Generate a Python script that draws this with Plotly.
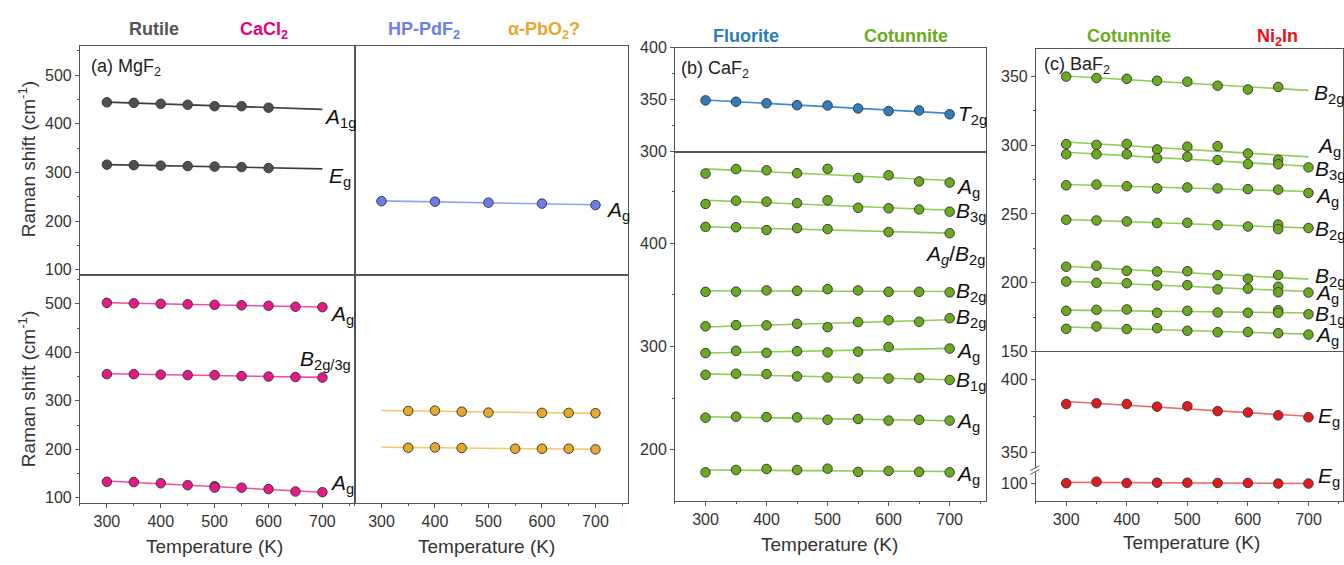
import numpy as np
import plotly.graph_objects as go

W, H = 1344, 565

# ---------------- DATA ----------------
T9 = [300, 350, 400, 450, 500, 550, 600, 650, 700]

# (a) MgF2
mgf2_rutile_T = [300, 350, 400, 450, 500, 550, 600]
mgf2_rutile_A1g = [444, 443, 441, 439, 436, 436, 433]
mgf2_rutile_Eg = [316, 315, 314, 313, 312, 311, 309]
mgf2_cacl2_Ag_hi = [502, 501, 500, 499, 498, 497, 496, 494, 493]
mgf2_cacl2_B2g3g = [355, 355, 354, 353, 353, 351, 350, 349, 348]
mgf2_cacl2_Ag_lo_T = [300, 350, 400, 450, 500, 500, 550, 600, 650, 700]
mgf2_cacl2_Ag_lo = [133, 132.5, 130, 126, 124, 121, 121, 118, 113, 111.5]
mgf2_pdf2_T = [300, 400, 500, 600, 700]
mgf2_pdf2_Ag = [241, 240, 238, 236, 233]
mgf2_pbo2_hi_T = [350, 400, 450, 500, 600, 650, 700]
mgf2_pbo2_hi = [279, 279.7, 277.7, 275.7, 275.1, 275.1, 274.5]
mgf2_pbo2_lo_T = [350, 400, 450, 550, 600, 650, 700]
mgf2_pbo2_lo = [203.2, 203.8, 202.6, 201.2, 201.2, 201.2, 199.8]

# (b) CaF2
caf2_fl_T2g = [349.3, 348, 346.5, 344.7, 344.4, 341.5, 339, 339.6, 335.9]
caf2_cot_Ag1 = [467.6, 472, 470.8, 468, 472.3, 463.3, 466, 460, 458.9]
caf2_cot_B3g = [438.2, 441.3, 440.4, 439, 441.7, 434.5, 434, 432.9, 430.7]
caf2_cot_AgB2g_T = [300, 350, 400, 450, 500, 600, 700]
caf2_cot_AgB2g = [416, 415.7, 412.9, 414.7, 413.8, 411, 409.8]
caf2_cot_B2g1 = [353, 353.2, 354.4, 354, 355.6, 354.4, 353, 353, 352.5]
caf2_cot_B2g2 = [319.6, 320.8, 320.5, 322, 318.7, 323.7, 325.5, 324, 327.4]
caf2_cot_Ag2_T = [300, 350, 400, 450, 500, 550, 600, 700]
caf2_cot_Ag2 = [293.6, 295.8, 293.9, 295.5, 294.3, 295, 299.5, 298]
caf2_cot_B1g = [272.6, 273.6, 273.3, 271, 270, 268.9, 268.9, 269.5, 267.6]
caf2_cot_Ag3 = [231, 232, 231.6, 231.3, 229, 229.7, 228.2, 228.9, 228.2]
caf2_cot_Ag4 = [178, 180.3, 181.3, 180.3, 181.6, 178.4, 179.4, 178.4, 178]

# (c) BaF2
baf2_B2g1_T = [300, 350, 400, 450, 500, 550, 600, 650]
baf2_B2g1 = [350, 349, 348.4, 347, 346.3, 343.4, 340.6, 342.5]
baf2_Ag1_T = [300, 350, 400, 450, 500, 550, 600, 650]
baf2_Ag1 = [300.8, 300.3, 301, 297, 299, 299.4, 294, 289.5]
baf2_B3g = [293.5, 293.5, 293.5, 290.7, 291.7, 289.3, 286.4, 286.2, 283.9]
baf2_Ag2 = [270.9, 271.4, 270.2, 268.6, 269.3, 268.6, 268.1, 267.7, 265.3]
baf2_B2g2_T = [300, 350, 400, 450, 500, 550, 600, 650, 650, 700]
baf2_B2g2 = [245.8, 245.3, 244.6, 243.4, 243.6, 241.9, 240.9, 242.3, 239, 239.8]
baf2_B2g3_T = [300, 350, 400, 450, 500, 550, 600, 650]
baf2_B2g3 = [211.6, 212.3, 208.6, 208.1, 208.3, 205.5, 202.9, 205.5]
baf2_Ag3_T = [300, 350, 400, 450, 500, 550, 600, 650, 650, 700]
baf2_Ag3 = [200.8, 199.9, 199.6, 198, 198.2, 195.1, 195.6, 197, 193, 192.8]
baf2_B1g_T = [300, 350, 400, 450, 500, 550, 600, 650, 650, 700]
baf2_B1g = [179.5, 180.2, 180.5, 178.1, 179.5, 178.3, 178.1, 180, 178.1, 177]
baf2_Ag4 = [166.4, 168.1, 166.2, 166.9, 165, 163.9, 164.1, 163.2, 162.2]
baf2_ni2in_Eg_hi = [383.3, 383.8, 383.3, 381.5, 381.8, 378.4, 377.5, 375.5, 374.2]
baf2_ni2in_Eg_lo = [100.1, 101.1, 100.2, 100.4, 100.4, 100.2, 100.2, 99.8, 99.8]

FIT_RANGE = [300, 700]

# ---------------- STYLE ----------------
FONT = "Liberation Sans, Arial, sans-serif"
EDGE = "#3a3a3a"
C_RUT, L_RUT = "#4f4f4f", "#3c3c3c"
C_CACL, L_CACL = "#e8178a", "#f0509e"
C_PDF, L_PDF = "#6a7cf0", "#8fa0f6"
C_PBO, L_PBO = "#e8a82a", "#f7c86a"
C_FL, L_FL = "#2e7ebf", "#3c8ad0"
C_COT, L_COT = "#6aab1e", "#92cc55"
C_NI, L_NI = "#e31a1c", "#f06a6a"


def dom_x(x0, x1):
    return [x0 / W, min(x1 / W, 1.0)]


def dom_y(top, bottom):
    return [1 - bottom / H, 1 - top / H]


fig = go.Figure()


def add_series(xs, ys, fill, lcol, ax):
    xs = np.asarray(xs, float)
    ys = np.asarray(ys, float)
    p = np.polyfit(xs, ys, 1)
    fx = np.array(FIT_RANGE, float)
    fig.add_trace(go.Scatter(x=fx, y=np.polyval(p, fx), mode="lines",
                             line=dict(color=lcol, width=1.6),
                             xaxis="x" + ax, yaxis="y" + ax,
                             showlegend=False, hoverinfo="skip"))
    fig.add_trace(go.Scatter(x=xs, y=ys, mode="markers",
                             marker=dict(size=9.5, color=fill, line=dict(color=EDGE, width=1)),
                             xaxis="x" + ax, yaxis="y" + ax, showlegend=False))


# panel a
add_series(mgf2_rutile_T, mgf2_rutile_A1g, C_RUT, L_RUT, "1")
add_series(mgf2_rutile_T, mgf2_rutile_Eg, C_RUT, L_RUT, "1")
add_series(mgf2_pdf2_T, mgf2_pdf2_Ag, C_PDF, L_PDF, "2")
add_series(T9, mgf2_cacl2_Ag_hi, C_CACL, L_CACL, "3")
add_series(T9, mgf2_cacl2_B2g3g, C_CACL, L_CACL, "3")
add_series(mgf2_cacl2_Ag_lo_T, mgf2_cacl2_Ag_lo, C_CACL, L_CACL, "3")
add_series(mgf2_pbo2_hi_T, mgf2_pbo2_hi, C_PBO, L_PBO, "4")
add_series(mgf2_pbo2_lo_T, mgf2_pbo2_lo, C_PBO, L_PBO, "4")
# panel b
add_series(T9, caf2_fl_T2g, C_FL, L_FL, "5")
add_series(T9, caf2_cot_Ag1, C_COT, L_COT, "6")
add_series(T9, caf2_cot_B3g, C_COT, L_COT, "6")
add_series(caf2_cot_AgB2g_T, caf2_cot_AgB2g, C_COT, L_COT, "6")
add_series(T9, caf2_cot_B2g1, C_COT, L_COT, "6")
add_series(T9, caf2_cot_B2g2, C_COT, L_COT, "6")
add_series(caf2_cot_Ag2_T, caf2_cot_Ag2, C_COT, L_COT, "6")
add_series(T9, caf2_cot_B1g, C_COT, L_COT, "6")
add_series(T9, caf2_cot_Ag3, C_COT, L_COT, "6")
add_series(T9, caf2_cot_Ag4, C_COT, L_COT, "6")
# panel c
add_series(baf2_B2g1_T, baf2_B2g1, C_COT, L_COT, "7")
add_series(baf2_Ag1_T, baf2_Ag1, C_COT, L_COT, "7")
add_series(T9, baf2_B3g, C_COT, L_COT, "7")
add_series(T9, baf2_Ag2, C_COT, L_COT, "7")
add_series(baf2_B2g2_T, baf2_B2g2, C_COT, L_COT, "7")
add_series(baf2_B2g3_T, baf2_B2g3, C_COT, L_COT, "7")
add_series(baf2_Ag3_T, baf2_Ag3, C_COT, L_COT, "7")
add_series(baf2_B1g_T, baf2_B1g, C_COT, L_COT, "7")
add_series(T9, baf2_Ag4, C_COT, L_COT, "7")
add_series(T9, baf2_ni2in_Eg_hi, C_NI, L_NI, "8")
add_series(T9, baf2_ni2in_Eg_lo, C_NI, L_NI, "9")

LINE = "#555555"
TICKFONT = dict(family=FONT, size=16, color="#333333")


def xax(dom, anchor, rng, labels, mirror=True, showline=True):
    d = dict(domain=dom, anchor=anchor, range=rng, showgrid=False, zeroline=False,
             showline=showline, linecolor=LINE, linewidth=1, mirror=mirror,
             tickfont=TICKFONT)
    if labels:
        d.update(ticks="outside", ticklen=4, tickcolor=LINE, tick0=300, dtick=100,
                 showticklabels=True,
                 minor=dict(ticks="outside", ticklen=2, dtick=50, tick0=300, tickcolor=LINE))
    else:
        d.update(ticks="", showticklabels=False)
    return d


def yax(dom, anchor, rng, dtick=None, tick0=None, minor=None, tickvals=None, labels=True):
    d = dict(domain=dom, anchor=anchor, range=rng, showgrid=False, zeroline=False,
             showline=True, linecolor=LINE, linewidth=1, mirror=True, tickfont=TICKFONT)
    if labels:
        d.update(ticks="outside", ticklen=4, tickcolor=LINE, showticklabels=True)
        if tickvals is not None:
            d.update(tickmode="array", tickvals=tickvals)
        else:
            d.update(dtick=dtick, tick0=tick0)
        if minor:
            d.update(minor=dict(ticks="outside", ticklen=2, dtick=minor, tick0=tick0, tickcolor=LINE))
    else:
        d.update(ticks="", showticklabels=False)
    return d


XA_L, XA_R = dom_x(80, 355), dom_x(355, 628)
XB = dom_x(675.5, 987)
XC = dom_x(1036.7, 1344)
A_RNG = [250, 760]
C_XRNG = [250, 757]

layout = dict(
    width=W, height=H, margin=dict(l=0, r=0, t=0, b=0),
    paper_bgcolor="white", plot_bgcolor="white", showlegend=False,
    font=dict(family=FONT, color="#222"),
    xaxis=xax(XA_L, "y", A_RNG, False),
    yaxis=yax(dom_y(39, 275), "x", [90, 560], 100, 100, 50),
    xaxis2=xax(XA_R, "y2", A_RNG, False),
    yaxis2=yax(dom_y(39, 275), "x2", [90, 560], labels=False),
    xaxis3=xax(XA_L, "y3", A_RNG, True),
    yaxis3=yax(dom_y(275, 510), "x3", [90, 560], 100, 100, 50),
    xaxis4=xax(XA_R, "y4", A_RNG, True),
    yaxis4=yax(dom_y(275, 510), "x4", [90, 560], labels=False),
    xaxis5=xax(XB, "y5", A_RNG, False),
    yaxis5=yax(dom_y(41, 148), "x5", [300, 400], 50, 300, 25),
    xaxis6=xax(XB, "y6", A_RNG, True),
    yaxis6=yax(dom_y(148, 508), "x6", [150.5, 489], 100, 100, 50),
    xaxis7=xax(XC, "y7", C_XRNG, False),
    yaxis7=yax(dom_y(42, 354), "x7", [150, 370.3], 50, 150, 25),
    xaxis8=xax(XC, "y8", C_XRNG, False, mirror=False, showline=False),
    yaxis8=yax(dom_y(354, 477), "x8", [337.5, 419.5], tickvals=[350, 400], tick0=350, minor=25),
    xaxis9=xax(XC, "y9", C_XRNG, True, mirror=False),
    yaxis9=yax(dom_y(477, 508), "x9", [88, 108.7], tickvals=[100]),
)
fig.update_layout(**layout)

ann = []


def P(px, py):
    return px / W, 1 - py / H


def paper_text(text, px, py, size, color, bold=False, xanchor="center", angle=0):
    x, y = P(px, py)
    t = "<b>%s</b>" % text if bold else text
    ann.append(dict(text=t, x=x, y=y, xref="paper", yref="paper", showarrow=False,
                    xanchor=xanchor, yanchor="middle", textangle=angle,
                    font=dict(family=FONT, size=size, color=color)))


# phase labels
paper_text("Rutile", 154, 22, 18, "#555555", True)
paper_text("CaCl<sub>2</sub>", 264, 23, 18, "#e6007e", True)
paper_text("HP-PdF<sub>2</sub>", 424, 23, 18, "#6b7ff2", True)
paper_text("α-PbO<sub>2</sub>?", 544, 23, 18, "#e8a82a", True)
paper_text("Fluorite", 747, 29, 18, "#2c7bbf", True)
paper_text("Cotunnite", 907, 29, 18, "#6aab1e", True)
paper_text("Cotunnite", 1130, 29, 18, "#6aab1e", True)
paper_text("Ni<sub>2</sub>In", 1278, 30, 18, "#e8101a", True)
# panel labels
paper_text("(a) MgF<sub>2</sub>", 89, 61, 18, "#222", xanchor="left")
paper_text("(b) CaF<sub>2</sub>", 680, 63, 18, "#222", xanchor="left")
paper_text("(c) BaF<sub>2</sub>", 1043, 59, 18, "#222", xanchor="left")
# axis titles
paper_text("Raman shift (cm<sup>-1</sup>)", 27, 156, 19, "#333", angle=-90)
paper_text("Raman shift (cm<sup>-1</sup>)", 27, 393, 19, "#333", angle=-90)
paper_text("Temperature (K)", 215, 555, 19, "#333")
paper_text("Temperature (K)", 487, 555, 19, "#333")
paper_text("Temperature (K)", 830, 553, 19, "#333")
paper_text("Temperature (K)", 1192, 551, 19, "#333")


def mode(text, x, y, ax):
    ann.append(dict(text=text, x=x, y=y, xref="x" + ax, yref="y" + ax, showarrow=False,
                    xanchor="left", yanchor="middle",
                    font=dict(family=FONT, size=21, color="#111")))


A = "<i>A</i><sub>g</sub>"
mode("<i>A</i><sub>1g</sub>", 700, 412, "1")
mode("<i>E</i><sub>g</sub>", 709, 290, "1")
mode(A, 716, 220, "2")
mode(A, 711, 477, "3")
mode("<i>B</i><sub>2g/3g</sub>", 655, 385, "3")
mode(A, 711, 128, "3")
mode("<i>T</i><sub>2g</sub>", 710, 335, "5")
mode(A, 707, 454, "6")
mode("<i>B</i><sub>3g</sub>", 707, 430.7, "6")
mode("<i>A</i><sub><i>g</i></sub>/<i>B</i><sub>2g</sub>", 656, 388.5, "6")
mode("<i>B</i><sub>2g</sub>", 707, 353, "6")
mode("<i>B</i><sub>2g</sub>", 707, 328, "6")
mode(A, 707, 294.5, "6")
mode("<i>B</i><sub>1g</sub>", 707, 266.4, "6")
mode(A, 707, 227, "6")
mode(A, 707, 175.8, "6")
mode("<i>B</i><sub>2g</sub>", 705, 337.6, "7")
mode(A, 710, 299, "7")
mode("<i>B</i><sub>3g</sub>", 708, 282, "7")
mode(A, 708, 262.2, "7")
mode("<i>B</i><sub>2g</sub>", 708, 238.7, "7")
mode("<i>B</i><sub>2g</sub>", 708, 204, "7")
mode(A, 708, 191.6, "7")
mode("<i>B</i><sub>1g</sub>", 708, 176.8, "7")
mode(A, 708, 161, "7")
mode("<i>E</i><sub>g</sub>", 713, 374.4, "8")
mode("<i>E</i><sub>g</sub>", 713, 104.5, "9")

fig.update_layout(annotations=ann)

# axis break marks on panel (c)
shapes = []
bx0, by0 = P(1031, 474)
bx1, by1 = P(1040, 479)
shapes.append(dict(type="rect", xref="paper", yref="paper", x0=bx0, x1=bx1, y0=by1, y1=by0,
                   fillcolor="white", line=dict(width=0), layer="above"))
for off in (0, 4):
    x0, y0 = P(1031, 477 + off)
    x1, y1 = P(1040, 472 + off)
    shapes.append(dict(type="line", xref="paper", yref="paper", x0=x0, y0=y0, x1=x1, y1=y1,
                       line=dict(color=LINE, width=1), layer="above"))
fig.update_layout(shapes=shapes)

fig.write_html("out.html")
